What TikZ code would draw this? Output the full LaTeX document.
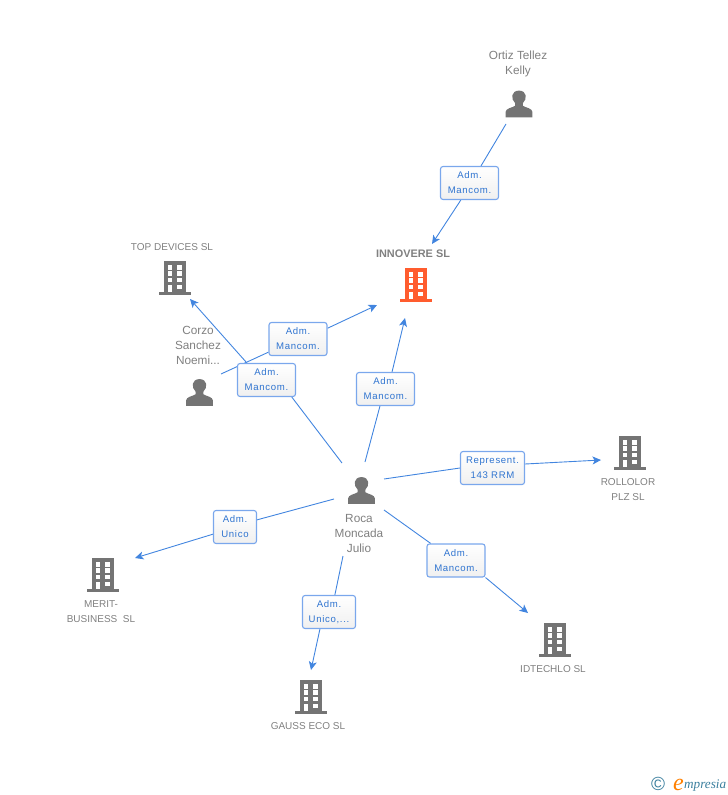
\documentclass[tikz,border=0pt]{standalone}
\usepackage{fontspec}
\setmainfont{Liberation Sans}
\newfontfamily\boxfont[LetterSpace=7]{Liberation Sans}
\newfontfamily\logofont{Liberation Serif}
\usetikzlibrary{arrows.meta,backgrounds}
\definecolor{linkblue}{HTML}{4285DF}
\definecolor{boxedge}{HTML}{7AA7EC}
\definecolor{boxtext}{HTML}{2F74D0}
\definecolor{labelgray}{HTML}{808080}
\definecolor{icongray}{HTML}{747474}
\definecolor{mainorange}{HTML}{FF5C2E}
\definecolor{logoteal}{HTML}{3B7F9E}
\tikzset{
  relbox/.style={draw=boxedge,line width=1.1pt,rounded corners=2.5pt,top color=white,bottom color=white!94!black,
    text=boxtext,font=\boxfont\fontsize{9.6}{15}\selectfont,align=center,inner sep=0pt,minimum height=33pt},
  comp/.style={text=labelgray,font=\fontsize{10}{15}\selectfont,align=center,inner sep=0pt},
  pers/.style={text=labelgray,font=\fontsize{11.8}{15}\selectfont,align=center,inner sep=0pt},
  link/.style={draw=linkblue,line width=0.9pt},
  arr/.style={link,-{Stealth[length=8.5pt,width=8pt,inset=2.2pt]}},
  pics/building/.style={code={
    \fill[#1] (-11,-16.7) rectangle (11,14.3);
    \fill[#1] (-16,14.3) rectangle (16,16.5);
    \foreach \yy in {-12.7,-6.6,0}{
      \fill[white] (-7.3,\yy) rectangle (-2.6,\yy+4.4);
      \fill[white] (2.4,\yy) rectangle (7.4,\yy+4.4);
    }
    \fill[white] (-7.3,6.7) rectangle (-2.6,14.3);
    \fill[white] (2.4,6.7) rectangle (7.4,11);
  }},
  pics/person/.style={code={
    \fill[icongray] (-13.4,13.4) -- (13.4,13.4) -- (13.4,8) .. controls (13.2,4.2) and (7,3.8) .. (3.9,1.8)
      .. controls (3.5,0.8) and (3.6,0) .. (4,-1) .. controls (8.4,-5) and (8,-13.4) .. (0,-13.4)
      .. controls (-8,-13.4) and (-8.4,-5) .. (-4,-1) .. controls (-3.6,0) and (-3.5,0.8) .. (-3.9,1.8)
      .. controls (-7,3.8) and (-13.2,4.2) .. (-13.4,8) -- cycle;
  }}
}
\begin{document}
\begin{tikzpicture}[x=1pt,y=-1pt]
  \useasboundingbox (0,0) rectangle (728,795);
  % icons
  \pic at (416,285) {building=mainorange};
  \pic at (175,278) {building=icongray};
  \pic at (630,453) {building=icongray};
  \pic at (103,575) {building=icongray};
  \pic at (311,697) {building=icongray};
  \pic at (555,640) {building=icongray};
  \pic at (519,104) {person};
  \pic at (199.5,392.5) {person};
  \pic at (361.5,490.5) {person};
  % labels
  \node[comp,font=\bfseries\fontsize{10.9}{15}\selectfont] (innovere) at (413,254) {INNOVERE SL};
  \node[comp] (topdevices) at (172,247) {TOP DEVICES SL};
  \node[comp] (rollolor) at (628,490) {ROLLOLOR\\PLZ SL};
  \node[comp] (merit) at (101,612) {MERIT-\\BUSINESS\ \ SL};
  \node[comp] (gauss) at (308,726) {GAUSS ECO SL};
  \node[comp] (idtechlo) at (553,669) {IDTECHLO SL};
  \node[pers] (ortiz) at (518,63.5) {Ortiz Tellez\\Kelly};
  \node[pers] (corzo) at (198,345) {Corzo\\Sanchez\\Noemi...};
  \node[pers] (roca) at (359,533) {Roca\\Moncada\\Julio};
  % relation boxes
  \node[relbox,minimum width=58pt] (rel1) at (469.5,183) {Adm.\\Mancom.};
  \node[relbox,minimum width=58pt] (rel2) at (298,339) {Adm.\\Mancom.};
  \node[relbox,minimum width=58pt] (rel3) at (266.5,380) {Adm.\\Mancom.};
  \node[relbox,minimum width=58pt] (rel4) at (385.5,389) {Adm.\\Mancom.};
  \node[relbox,minimum width=64pt] (rel5) at (492.5,468) {Represent.\\143 RRM};
  \node[relbox,minimum width=58pt] (rel6) at (456,560.5) {Adm.\\Mancom.};
  \node[relbox,minimum width=53pt] (rel7) at (329,612) {Adm.\\Unico,...};
  \node[relbox,minimum width=43pt] (rel8) at (235,527) {Adm.\\Unico};
  % line ends
  \coordinate (s1) at (506,124);   \coordinate (t1) at (432,244);
  \coordinate (s2) at (221,374);   \coordinate (t2) at (377,305);
  \coordinate (s3) at (342,463);   \coordinate (t3) at (190,299);
  \coordinate (s4) at (365,462);   \coordinate (t4) at (405,318);
  \coordinate (s5) at (384,479);   \coordinate (t5) at (601,460);
  \coordinate (s6) at (384,510);   \coordinate (t6) at (528,613);
  \coordinate (s7) at (343,556);   \coordinate (t7) at (311,670);
  \coordinate (s8) at (334,499);   \coordinate (t8) at (135,558);
  \begin{scope}[on background layer]
    \foreach \i/\ain/\aout in {1/56/-117,2/-156/20,3/-34/139,4/-108/69,5/180/7,6/146/-30,7/71/-118,8/18/198}{
      \draw[link] (s\i) -- (rel\i.\ain);
      \draw[arr] (rel\i.\aout) -- (t\i);
    }
  \end{scope}
  % logo
  \node[inner sep=0pt,text=logoteal,font=\fontsize{19}{19}\selectfont] (copyr) at (658,784) {©};
  \node[inner sep=0pt,anchor=base west,text=logoteal,font=\logofont\itshape\fontsize{13.2}{15}\selectfont] (logo) at (684,788.5) {mpresia};
  \node[inner sep=0pt,anchor=base east,text=orange,font=\logofont\itshape\fontsize{24}{24}\selectfont] (logoe) at (684,790) {e};
\end{tikzpicture}
\end{document}
